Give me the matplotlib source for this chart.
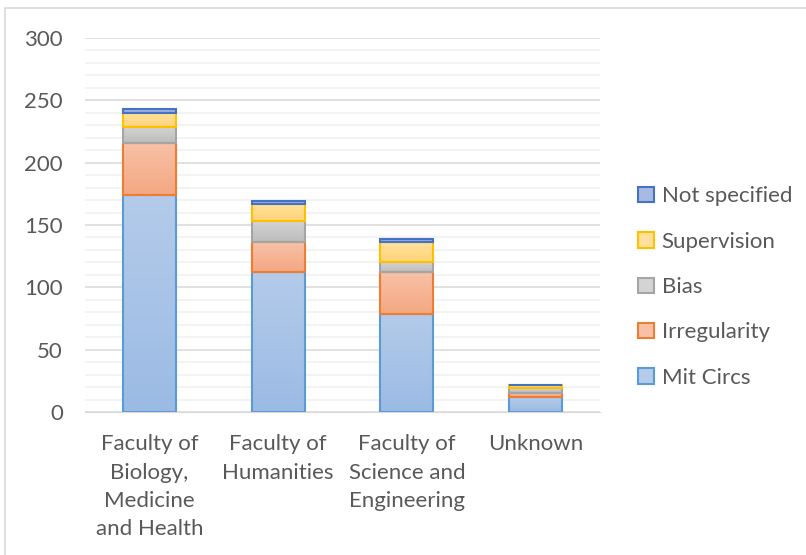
"""
Stacked bars of case types by faculty, Excel look.
"""

import numpy as np
import matplotlib
matplotlib.use('Agg')
import matplotlib.pyplot as plt
from matplotlib.patches import Rectangle
from matplotlib.colors import to_rgb

# Data
faculties = ['Faculty of\nBiology,\nMedicine\nand Health', 'Faculty of\nHumanities',
             'Faculty of\nScience and\nEngineering', 'Unknown']
series = ['Mit Circs', 'Irregularity', 'Bias', 'Supervision', 'Not specified']
mit_circs = [174, 112, 79, 12]
irregularity = [42, 24, 33, 3]
bias = [13, 17, 8, 4]
supervision = [11, 14, 16, 3]
not_specified = [3, 2, 3, 0]
values = [mit_circs, irregularity, bias, supervision, not_specified]

# Styles: (light top, dark bottom, edge)
cols = [
    ('#b4cbea', '#9bbbe4', '#5b9bd5'),
    ('#f8c1a7', '#f4a882', '#ed7d31'),
    ('#d4d4d4', '#bdbdbd', '#a5a5a5'),
    ('#ffe19c', '#ffd47a', '#ffc000'),
    ('#a8b9e3', '#8ea5da', '#4472c4'),
]
txtcol = '#595959'
fs = 16

plt.rcParams['font.family'] = ['Lato', 'DejaVu Sans']

fig = plt.figure(figsize=(8.06, 5.55), dpi=100)
ax = fig.add_axes([85/806, 1-412/555, 515/806, 374/555])

# Outer chart frame
fig.add_artist(Rectangle((5/806, -0.1), 1.1, 1 - 8/555 + 0.1, transform=fig.transFigure,
                         fill=False, ec='#d9d9d9', lw=1.2))

x = np.arange(len(faculties))
bottom = np.zeros(len(faculties))
handles = []
for vals, name, (c1, c2, ec) in zip(values, series, cols):
    bars = ax.bar(x, vals, 0.41, bottom=bottom, color=c2, edgecolor=ec, lw=1.5,
                  label=name, zorder=3)
    # gradient fill, lighter at top
    grad = np.linspace(0, 1, 64)[:, None, None]
    img = (1 - grad) * np.array(to_rgb(c1)) + grad * np.array(to_rgb(c2))
    for b in bars:
        if b.get_height() <= 0:
            continue
        x0, y0 = b.get_x(), b.get_y()
        im = ax.imshow(img, extent=[x0, x0 + b.get_width(), y0, y0 + b.get_height()],
                       aspect='auto', origin='upper', zorder=2.9, interpolation='bilinear')
        im.set_clip_path(b)
        b.set_facecolor('none')
    handles.append(bars)
    bottom += np.array(vals)

ax.set_xlim(-0.5, 3.5)
ax.set_ylim(0, 300)
ax.set_yticks(np.arange(0, 301, 50))
ax.set_yticks(np.arange(0, 301, 10), minor=True)
ax.grid(axis='y', which='major', color='#d9d9d9', lw=1.1, zorder=0)
ax.grid(axis='y', which='minor', color='#f0f0f0', lw=1.1, zorder=0)
ax.set_xticks(x)
ax.set_xticklabels(faculties, fontsize=fs, color=txtcol, linespacing=1.52, va='top')
ax.tick_params(axis='y', which='both', length=0, labelsize=fs, labelcolor=txtcol, pad=16)
ax.tick_params(axis='x', length=0, pad=16)
for s in ['top', 'right', 'left']:
    ax.spines[s].set_visible(False)
ax.spines['bottom'].set_color('#d9d9d9')
ax.spines['bottom'].set_zorder(4)

leg = ax.legend(handles[::-1], series[::-1], loc='center left', bbox_to_anchor=(1.057, 0.334),
                frameon=False, fontsize=fs, labelcolor=txtcol, labelspacing=1.14,
                handlelength=0.7, handleheight=0.7, handletextpad=0.35, borderaxespad=0)
for h, (c1, c2, ec) in zip(leg.legend_handles, cols[::-1]):
    h.set_facecolor(c1)
    h.set_edgecolor(ec)
    h.set_linewidth(1.5)

fig.savefig('out.png', dpi=100)
